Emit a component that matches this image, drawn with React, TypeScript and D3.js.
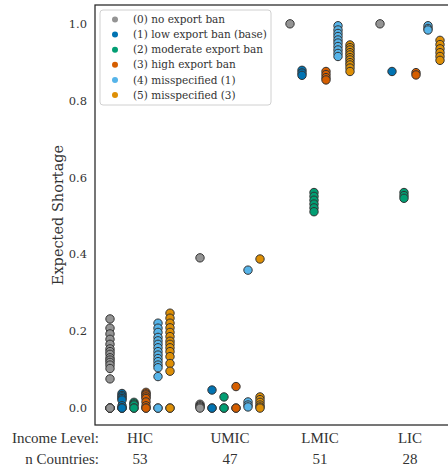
import React from "react";
import * as d3 from "d3";

const categories = ["HIC", "UMIC", "LMIC", "LIC"];
const nCountries = [53, 47, 51, 28];
const seriesNames = [
  "(0) no export ban",
  "(1) low export ban (base)",
  "(2) moderate export ban",
  "(3) high export ban",
  "(4) misspecified (1)",
  "(5) misspecified (3)",
];
const seriesColors = ["#949494", "#0173b2", "#029e73", "#d55e00", "#56b4e9", "#de8f05"];
const yTicks = [0, 0.2, 0.4, 0.6, 0.8, 1.0];

// values[series][category] -> list of country values
const noBan = [
  [0.232, 0.208, 0.193, 0.179, 0.166, 0.154, 0.147, 0.14, 0.131, 0.125, 0.119, 0.112, 0.103, 0.076, 0, 0, 0, 0],
  [0.391, 0.01, 0.006, 0.003, 0],
  [1.0],
  [1.0],
];
const lowBan = [
  [0.038, 0.033, 0.029, 0.025, 0.021, 0.006, 0, 0, 0],
  [0.047, 0, 0],
  [0.879, 0.872, 0.866],
  [0.876],
];
const moderateBan = [
  [0.015, 0.011, 0.008, 0, 0],
  [0.029, 0, 0],
  [0.561, 0.551, 0.541, 0.531, 0.521, 0.511],
  [0.561, 0.553, 0.546],
];
const highBan = [
  [0.041, 0.037, 0.034, 0.029, 0.025, 0.016, 0.006, 0, 0],
  [0.056, 0, 0],
  [0.876, 0.868, 0.86, 0.854],
  [0.873, 0.867],
];
const misspec1 = [
  [0.221, 0.208, 0.197, 0.184, 0.175, 0.166, 0.157, 0.147, 0.138, 0.129, 0.121, 0.112, 0.105, 0.082, 0, 0],
  [0.359, 0.016, 0.008, 0.003],
  [0.995, 0.984, 0.975, 0.967, 0.958, 0.95, 0.941, 0.932, 0.923, 0.915],
  [0.995, 0.988, 0.984],
];
const misspec3 = [
  [0.247, 0.234, 0.221, 0.209, 0.197, 0.186, 0.174, 0.166, 0.157, 0.147, 0.134, 0.116, 0.096, 0, 0],
  [0.388, 0.029, 0.022, 0.015, 0.008, 0.003, 0],
  [0.945, 0.938, 0.932, 0.925, 0.919, 0.912, 0.906, 0.899, 0.893, 0.885, 0.876],
  [0.957, 0.946, 0.935, 0.925, 0.915, 0.905],
];
const allSeries = [noBan, lowBan, moderateBan, highBan, misspec1, misspec3];

const W = 448;
const H = 468;
const left = 95;
const top = 5;
const bottom = 425;
const serif = "'DejaVu Serif', serif";
const times = "'Liberation Serif', 'Times New Roman', serif";
const ink = "#262626";

export default function App() {
  const x = d3.scaleBand<string>().domain(categories).range([left, left + 90 * categories.length]).padding(0);
  const inner = d3
    .scaleBand<string>()
    .domain(seriesNames)
    .range([-x.bandwidth() * 0.4, x.bandwidth() * 0.4]);
  const y = d3.scaleLinear().domain([-0.044, 1.049]).range([bottom, top]);

  const points: { cx: number; cy: number; color: string; key: string }[] = [];
  allSeries.forEach((series, si) => {
    series.forEach((vals, ci) => {
      vals.forEach((v, k) => {
        points.push({
          cx: (x(categories[ci]) as number) + x.bandwidth() / 2 + (inner(seriesNames[si]) as number) + inner.bandwidth() / 2,
          cy: y(v),
          color: seriesColors[si],
          key: `${si}-${ci}-${k}`,
        });
      });
    });
  });

  return (
    <div style={{ position: "absolute", left: 0, top: 0 }}>
      <svg width={W} height={H} style={{ display: "block", background: "#fff" }}>
        {/* points */}
        <g>
          {points.map((p) => (
            <circle key={p.key} cx={p.cx} cy={p.cy} r={4.2} fill={p.color} stroke="#333" strokeWidth={1} />
          ))}
        </g>
        {/* spines */}
        <rect x={left} y={top} width={W + 20 - left} height={bottom - top} fill="none" stroke={ink} strokeWidth={1.25} />
        {/* y ticks */}
        {yTicks.map((t) => (
          <text key={t} x={left - 8} y={y(t)} dy="0.35em" textAnchor="end" fontFamily={serif} fontSize={11.5} fill="#333">
            {t.toFixed(1)}
          </text>
        ))}
        <text
          transform={`translate(${63},${(top + bottom) / 2}) rotate(-90)`}
          textAnchor="middle"
          fontFamily={serif}
          fontSize={14.5}
          fill="#333"
        >
          Expected Shortage
        </text>
        {/* category annotations */}
        <text x={99} y={443} textAnchor="end" fontFamily={times} fontSize={15} fill="#333">
          Income Level:
        </text>
        <text x={99} y={464} textAnchor="end" fontFamily={times} fontSize={15} fill="#333">
          n Countries:
        </text>
        {categories.map((c, i) => (
          <g key={c}>
            <text x={(x(c) as number) + x.bandwidth() / 2} y={443} textAnchor="middle" fontFamily={times} fontSize={15} fill="#333">
              {c}
            </text>
            <text x={(x(c) as number) + x.bandwidth() / 2} y={464} textAnchor="middle" fontFamily={times} fontSize={15} fill="#333">
              {nCountries[i]}
            </text>
          </g>
        ))}
        {/* legend */}
        <rect x={100} y={10} width={171} height={95} rx={3} fill="#fff" fillOpacity={0.8} stroke="#d0d0d0" strokeWidth={1} />
        {seriesNames.map((s, i) => (
          <g key={s}>
            <circle cx={115} cy={19.5 + i * 15.1} r={3} fill={seriesColors[i]} />
            <text x={133} y={19.5 + i * 15.1} dy="0.35em" fontFamily={serif} fontSize={10.5} fill="#333">
              {s}
            </text>
          </g>
        ))}
      </svg>
    </div>
  );
}
